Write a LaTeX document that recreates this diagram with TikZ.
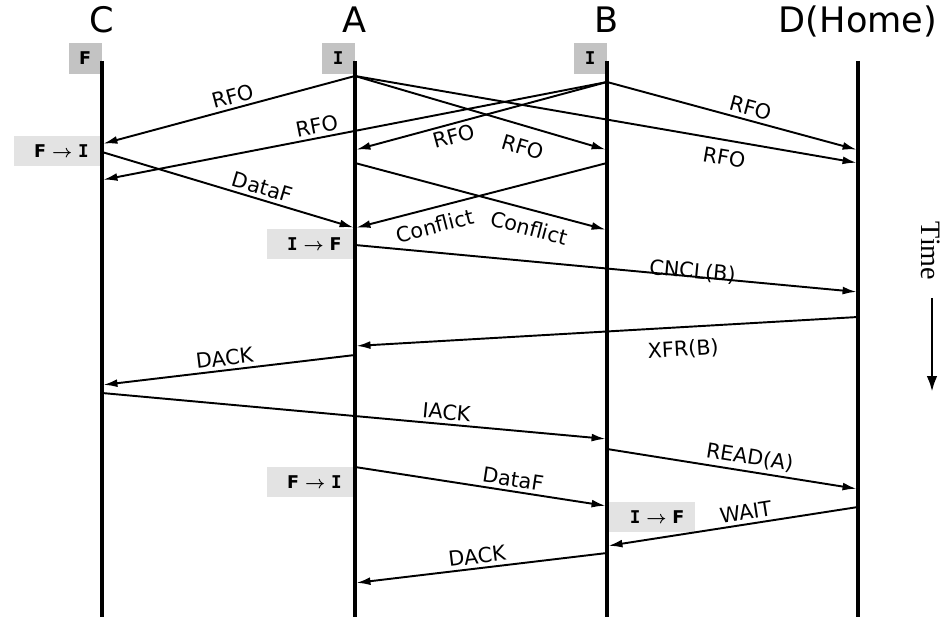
\documentclass[tikz,border=0pt]{standalone}
\usepackage{fontspec}
\setmainfont{DejaVu Sans}
\newfontfamily\timefont{Liberation Serif}
\newfontfamily\serifI{DejaVu Sans Mono}
\usetikzlibrary{arrows.meta}
\definecolor{startgray}{HTML}{C3C3C3}
\definecolor{changegray}{HTML}{E3E3E3}
\newcommand{\stI}{{\serifI I}}
\newcommand{\stto}{ $\boldsymbol{\rightarrow}$ }
\usepackage{amsmath}
\begin{document}
\begin{tikzpicture}[x=0.02cm,y=-0.02cm,
    head/.style={anchor=base,font=\fontsize{20}{23}\selectfont},
    lifeline/.style={line width=2pt},
    msg/.style={line width=1.1pt,-{Latex[length=8pt,width=4.5pt]},shorten >=0.8pt},
    lbl/.style={sloped,inner sep=2pt,font=\fontsize{11.8}{14}\selectfont},
    state/.style={fill=startgray,anchor=south east,minimum width=0.66cm,minimum height=0.62cm,
      inner sep=0pt,font=\fontsize{10}{12}\selectfont\bfseries},
    change/.style={fill=changegray,minimum height=0.6cm,text width=1.28cm,inner xsep=0.22cm,
      inner ysep=0pt,align=right,font=\fontsize{10}{12}\selectfont\bfseries}]
    \useasboundingbox (0,0) rectangle (942,617);

    % agents
    \node[head] (C) at (102,33) {C};
    \node[head] (A) at (355,33) {A};
    \node[head] (B) at (607,33) {B};
    \node[head] (D) at (858,33) {D(Home)};

    % states
    \node[state] (sC) at (102,74) {F};
    \node[state] (sA) at (355,74) {\stI};
    \node[state] (sB) at (607,74) {\stI};
    \node[change,anchor=east] (tC1) at (100,151) {F\stto\stI};
    \node[change,anchor=east] (tA1) at (353,244) {\stI\stto F};
    \node[change,anchor=east] (tA2) at (353,482) {F\stto\stI};
    \node[change,anchor=west] (tB1) at (609,517) {\stI\stto F};

    % lifelines
    \coordinate (Ctop) at (102,61); \coordinate (Cend) at (102,617);
    \coordinate (Atop) at (355,61); \coordinate (Aend) at (355,617);
    \coordinate (Btop) at (607,61); \coordinate (Bend) at (607,617);
    \coordinate (Dtop) at (858,61); \coordinate (Dend) at (858,617);
    \draw[lifeline] (Ctop) -- (Cend);
    \draw[lifeline] (Atop) -- (Aend);
    \draw[lifeline] (Btop) -- (Bend);
    \draw[lifeline] (Dtop) -- (Dend);

    % message ends
    \coordinate (c144) at (102,144); \coordinate (c152) at (102,152);
    \coordinate (c180) at (102,180); \coordinate (c385) at (102,385);
    \coordinate (c393) at (102,393);
    \coordinate (a76) at (355,76);   \coordinate (a150) at (355,150);
    \coordinate (a163) at (355,163); \coordinate (a228) at (355,228);
    \coordinate (a245) at (355,245); \coordinate (a346) at (355,346);
    \coordinate (a355) at (355,355); \coordinate (a467) at (355,467);
    \coordinate (a583) at (355,583);
    \coordinate (b82) at (607,82);   \coordinate (b150) at (607,150);
    \coordinate (b163) at (607,163); \coordinate (b230) at (607,230);
    \coordinate (b439) at (607,439); \coordinate (b449) at (607,449);
    \coordinate (b506) at (607,506); \coordinate (b546) at (607,546);
    \coordinate (b553) at (607,553);
    \coordinate (d150) at (858,150); \coordinate (d163) at (858,163);
    \coordinate (d292) at (858,292); \coordinate (d317) at (858,317);
    \coordinate (d489) at (858,489); \coordinate (d507) at (858,507);

    % messages
    \draw[msg] (a76) -- node[lbl,above,pos=.47] {RFO} (c144);
    \draw[msg] (a76) -- node[lbl,below=5pt,pos=.69] {RFO} (b150);
    \draw[msg] (a76) -- node[lbl,below=3pt,pos=.74] {RFO} (d163);
    \draw[msg] (b82) -- node[lbl,above,pos=.57] {RFO} (c180);
    \draw[msg] (b82) -- node[lbl,below,pos=.62] {RFO} (a150);
    \draw[msg] (b82) -- node[lbl,above,pos=.56] {RFO} (d150);
    \draw[msg] (c152) -- node[lbl,above,pos=.62] {DataF} (a228);
    \draw[msg] (a163) -- node[lbl,below=3pt,pos=.71] {Conflict} (b230);
    \draw[msg] (b163) -- node[lbl,below=3pt,pos=.70] {Conflict} (a228);
    \draw[msg] (a245) -- node[lbl,above=-5pt,pos=.67] {CNCL(B)} (d292);
    \draw[msg] (d317) -- node[lbl,below=5pt,pos=.35] {XFR(B)} (a346);
    \draw[msg] (a355) -- node[lbl,above,pos=.51] {DACK} (c385);
    \draw[msg] (c393) -- node[lbl,above,pos=.68] {IACK} (b439);
    \draw[msg] (b449) -- node[lbl,above,pos=.56] {READ(A)} (d489);
    \draw[msg] (a467) -- node[lbl,above,pos=.62] {DataF} (b506);
    \draw[msg] (d507) -- node[lbl,above,pos=.44] {WAIT} (b546);
    \draw[msg] (b553) -- node[lbl,above,pos=.51] {DACK} (a583);

    % time axis
    \node[rotate=-90,font=\timefont\fontsize{16}{18}\selectfont] (time) at (931,251) {Time};
    \coordinate (t0) at (932,298); \coordinate (t1) at (932,392);
    \draw[line width=1.6pt,-{Latex[length=9pt,width=6pt]}] (t0) -- (t1);
\end{tikzpicture}
\end{document}
